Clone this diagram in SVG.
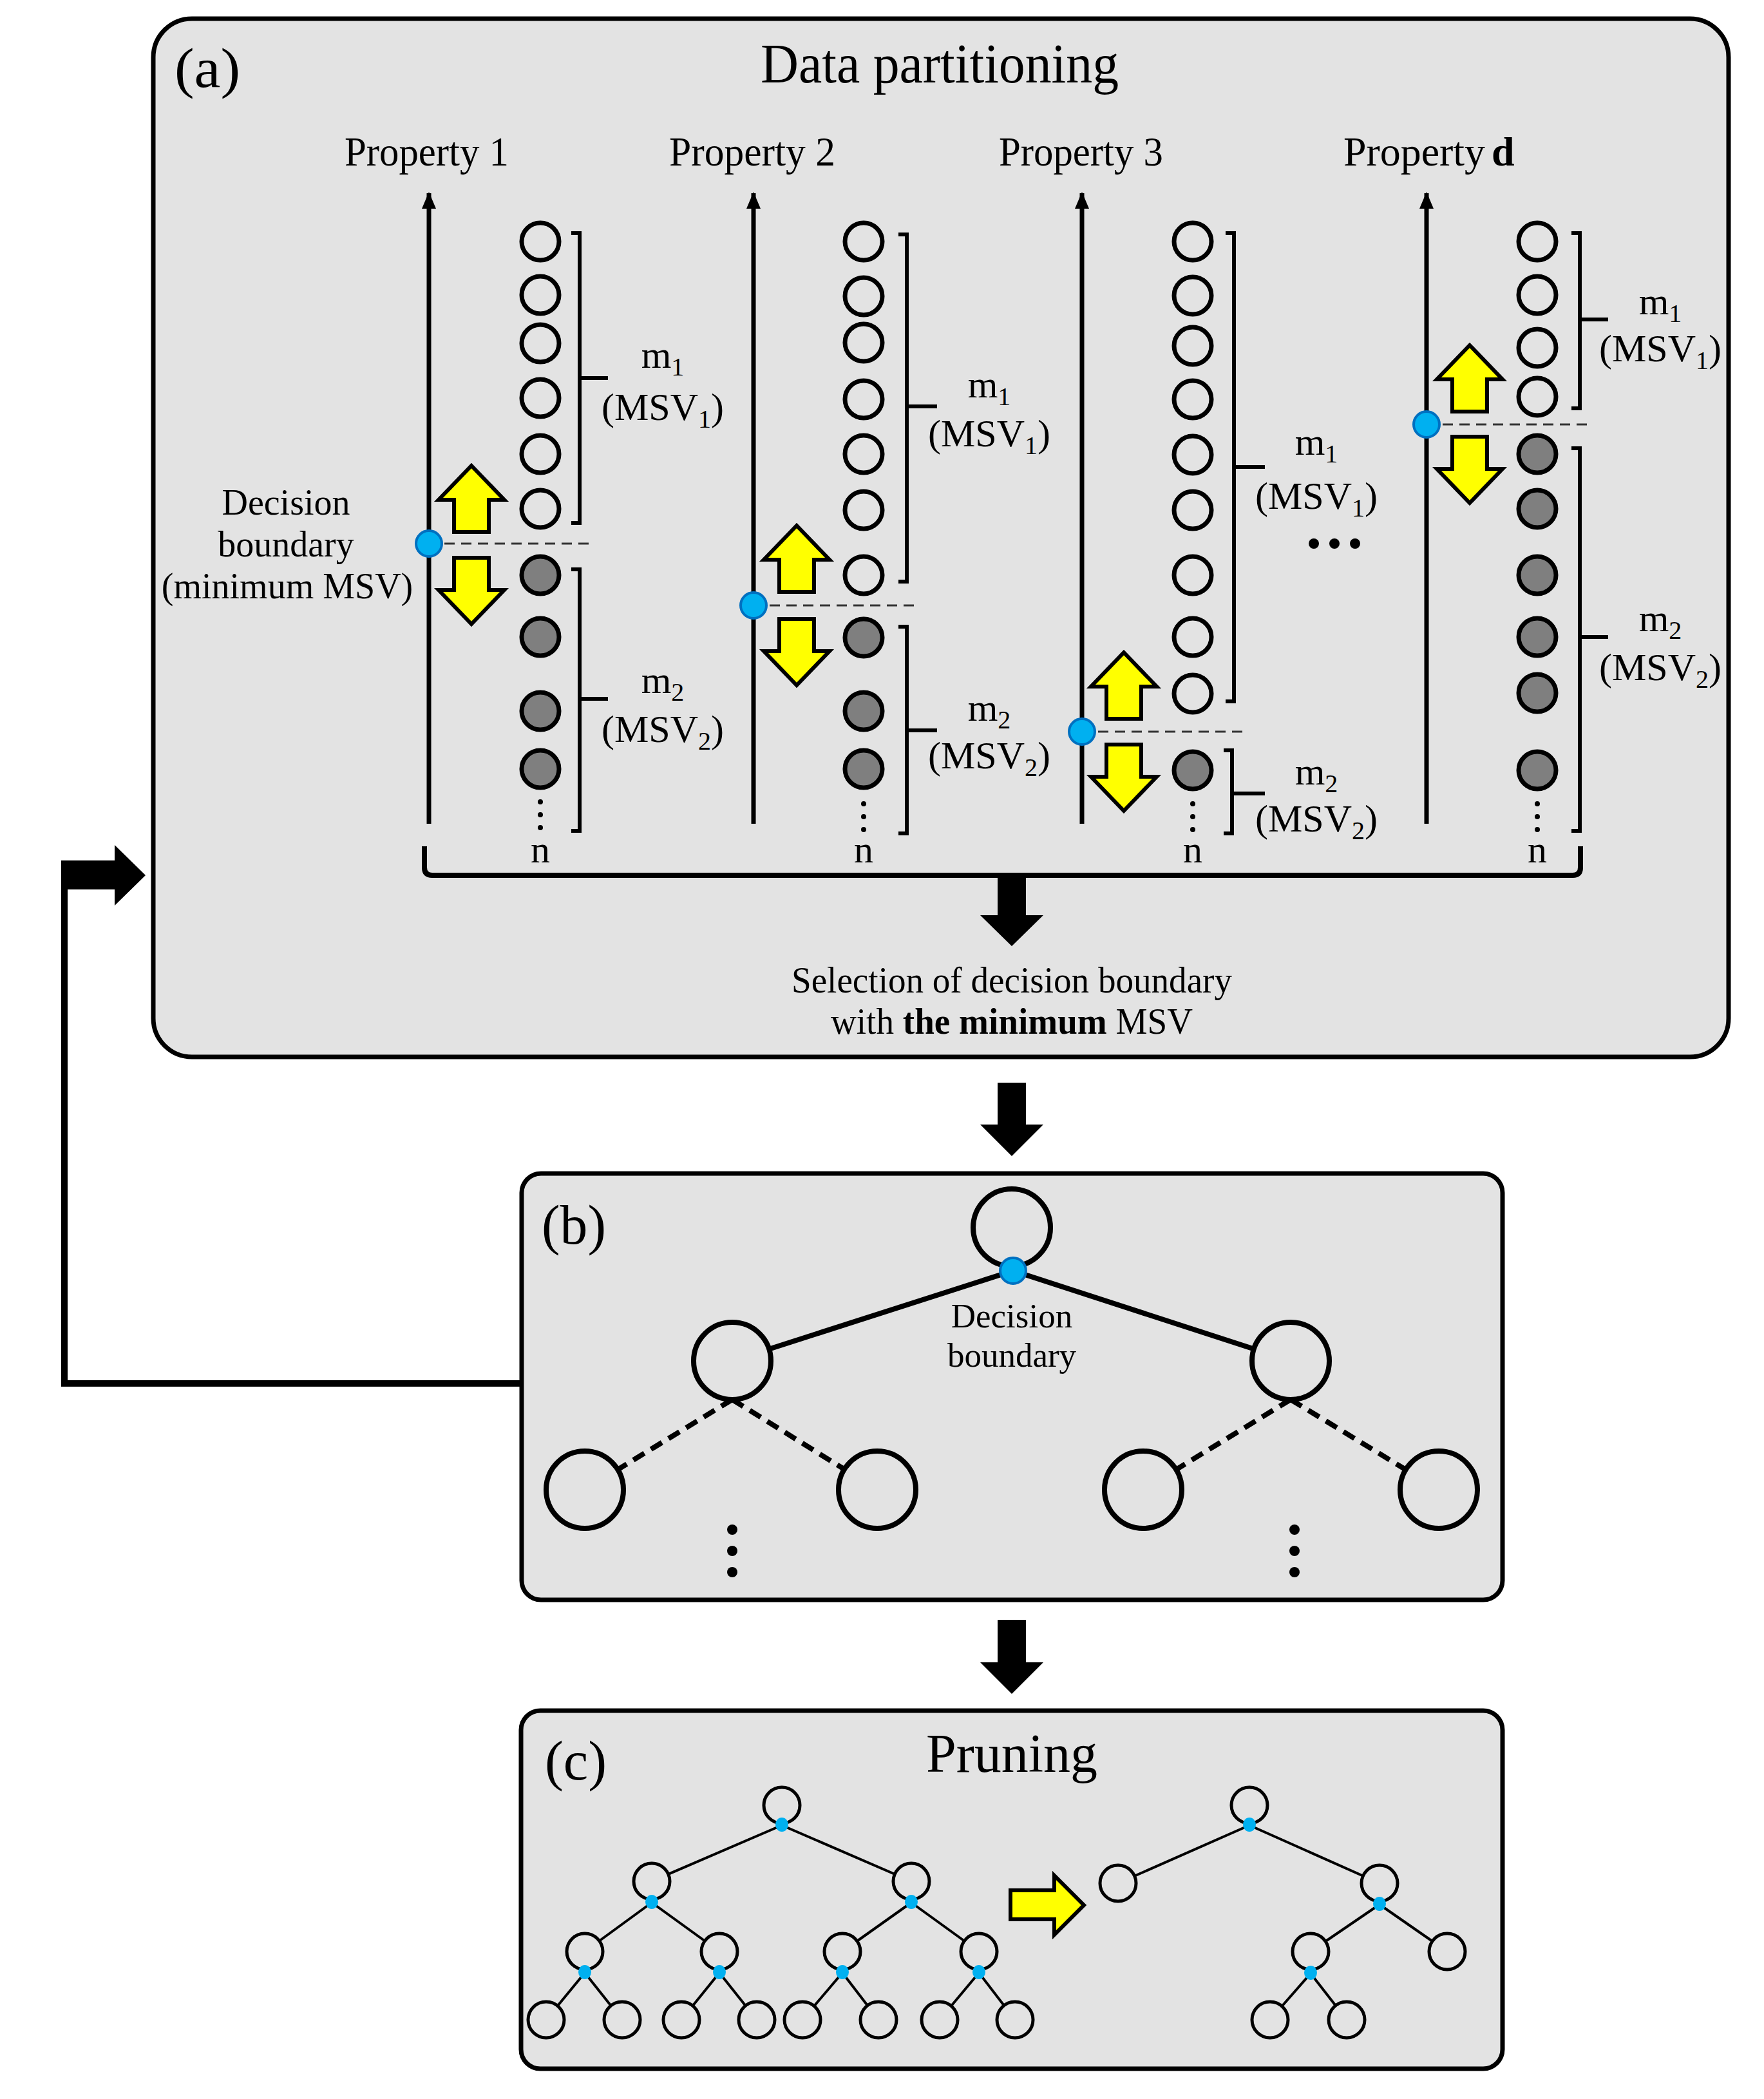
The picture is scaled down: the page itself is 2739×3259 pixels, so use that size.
<svg xmlns="http://www.w3.org/2000/svg" xmlns:xlink="http://www.w3.org/1999/xlink" width="2739" height="3259" viewBox="0 0 2739 3259">
<defs>
<style>
.t{font-family:"Liberation Serif","Times New Roman",serif;fill:#000}
.panel{fill:#e3e3e3;stroke:#000;stroke-width:7}
.axis{stroke:#000;stroke-width:7;fill:none}
.oc{fill:none;stroke:#000;stroke-width:7}
.fc{fill:#7f7f7f;stroke:#000;stroke-width:7}
.br{fill:none;stroke:#000;stroke-width:6;stroke-linejoin:miter}
.dash{stroke:#333;stroke-width:3;stroke-dasharray:16 10;fill:none}
.bd{fill:#00b0f0;stroke:#0070c0;stroke-width:4}
.ya{fill:#ffff00;stroke:#000;stroke-width:6;stroke-linejoin:miter}
.tc{fill:#e3e3e3;stroke:#000;stroke-width:8}
.tl{stroke:#000;stroke-width:8;fill:none}
.tld{stroke:#000;stroke-width:8;stroke-dasharray:20 12;fill:none}
.sc{fill:#e3e3e3;stroke:#000;stroke-width:5}
.sl{stroke:#000;stroke-width:4;fill:none}
.sd{fill:#00b0f0}
.blk{fill:#000}
</style>
<marker id="ah" markerUnits="userSpaceOnUse" markerWidth="26" markerHeight="22" refX="24" refY="11" orient="auto">
<path d="M0,0 L26,11 L0,22 Z" fill="#000"/>
</marker>
<path id="up" d="M0,0 L51,53 L27,53 L27,103 L-27,103 L-27,53 L-51,53 Z"/>
<path id="dn" d="M0,0 L51,-53 L27,-53 L27,-103 L-27,-103 L-27,-53 L-51,-53 Z"/>
</defs>

<g id="connectors">
<path d="M100,1336 L100,2148 L810,2148" fill="none" stroke="#000" stroke-width="10"/>
<path class="blk" d="M95,1336 L178,1336 L178,1312 L226,1359 L178,1406 L178,1381 L95,1381 Z"/>
<path class="blk" d="M1549,1681 L1593,1681 L1593,1746 L1620,1746 L1571,1795 L1522,1746 L1549,1746 Z"/>
<path class="blk" d="M1549,2515 L1593,2515 L1593,2581 L1620,2581 L1571,2630 L1522,2581 L1549,2581 Z"/>
</g>

<g id="panel-a">
<rect class="panel" x="238" y="29" width="2446" height="1612" rx="60"/>
<text class="t" x="271" y="135" font-size="86" textLength="102" lengthAdjust="spacingAndGlyphs">(a)</text>
<text class="t" x="1181" y="128" font-size="86" textLength="556" lengthAdjust="spacingAndGlyphs">Data partitioning</text>

<g id="property-1">
<text class="t" x="535" y="257" font-size="64" textLength="255" lengthAdjust="spacingAndGlyphs">Property 1</text>
<line class="axis" x1="666" y1="1279" x2="666" y2="300" marker-end="url(#ah)"/>
<circle class="oc" cx="839" cy="375" r="29"/>
<circle class="oc" cx="839" cy="458" r="29"/>
<circle class="oc" cx="839" cy="533" r="29"/>
<circle class="oc" cx="839" cy="618" r="29"/>
<circle class="oc" cx="839" cy="705" r="29"/>
<circle class="oc" cx="839" cy="790" r="29"/>
<circle class="fc" cx="839" cy="893" r="29"/>
<circle class="fc" cx="839" cy="989" r="29"/>
<circle class="fc" cx="839" cy="1104" r="29"/>
<circle class="fc" cx="839" cy="1194" r="29"/>
<circle class="blk" cx="839" cy="1245" r="4"/><circle class="blk" cx="839" cy="1265" r="4"/><circle class="blk" cx="839" cy="1285" r="4"/>
<text class="t" x="839" y="1339" font-size="60" text-anchor="middle">n</text>
<path class="br" d="M887,362 L900,362 L900,812 L887,812 M900,587 L944,587"/>
<path class="br" d="M887,884 L900,884 L900,1290 L887,1290 M900,1085 L944,1085"/>
<text class="t" x="1029" y="571" font-size="60" text-anchor="middle">m<tspan font-size="40" dy="12">1</tspan></text>
<text class="t" x="1029" y="652" font-size="60" text-anchor="middle">(MSV<tspan font-size="40" dy="12">1</tspan><tspan dy="-12">)</tspan></text>
<text class="t" x="1029" y="1076" font-size="60" text-anchor="middle">m<tspan font-size="40" dy="12">2</tspan></text>
<text class="t" x="1029" y="1152" font-size="60" text-anchor="middle">(MSV<tspan font-size="40" dy="12">2</tspan><tspan dy="-12">)</tspan></text>
<line class="dash" x1="690" y1="844" x2="917" y2="844"/>
<use xlink:href="#up" href="#up" class="ya" x="732" y="723"/>
<use xlink:href="#dn" href="#dn" class="ya" x="732" y="969"/>
<circle class="bd" cx="666" cy="844" r="20"/>
<text class="t" font-size="56" text-anchor="middle"><tspan x="444" y="799">Decision</tspan><tspan x="444" y="864">boundary</tspan><tspan x="446" y="929">(minimum MSV)</tspan></text>
</g>

<g id="property-2">
<text class="t" x="1039" y="257" font-size="64" textLength="258" lengthAdjust="spacingAndGlyphs">Property 2</text>
<line class="axis" x1="1170" y1="1279" x2="1170" y2="300" marker-end="url(#ah)"/>
<circle class="oc" cx="1341" cy="375" r="29"/>
<circle class="oc" cx="1341" cy="460" r="29"/>
<circle class="oc" cx="1341" cy="532" r="29"/>
<circle class="oc" cx="1341" cy="620" r="29"/>
<circle class="oc" cx="1341" cy="705" r="29"/>
<circle class="oc" cx="1341" cy="792" r="29"/>
<circle class="oc" cx="1341" cy="893" r="29"/>
<circle class="fc" cx="1341" cy="990" r="29"/>
<circle class="fc" cx="1341" cy="1104" r="29"/>
<circle class="fc" cx="1341" cy="1194" r="29"/>
<circle class="blk" cx="1341" cy="1248" r="4"/><circle class="blk" cx="1341" cy="1268" r="4"/><circle class="blk" cx="1341" cy="1288" r="4"/>
<text class="t" x="1341" y="1339" font-size="60" text-anchor="middle">n</text>
<path class="br" d="M1395,364 L1408,364 L1408,903 L1395,903 M1408,631 L1455,631"/>
<path class="br" d="M1395,973 L1408,973 L1408,1294 L1395,1294 M1408,1134 L1455,1134"/>
<text class="t" x="1536" y="617" font-size="60" text-anchor="middle">m<tspan font-size="40" dy="12">1</tspan></text>
<text class="t" x="1536" y="693" font-size="60" text-anchor="middle">(MSV<tspan font-size="40" dy="12">1</tspan><tspan dy="-12">)</tspan></text>
<text class="t" x="1536" y="1119" font-size="60" text-anchor="middle">m<tspan font-size="40" dy="12">2</tspan></text>
<text class="t" x="1536" y="1193" font-size="60" text-anchor="middle">(MSV<tspan font-size="40" dy="12">2</tspan><tspan dy="-12">)</tspan></text>
<line class="dash" x1="1195" y1="940" x2="1424" y2="940"/>
<use xlink:href="#up" href="#up" class="ya" x="1237" y="816"/>
<use xlink:href="#dn" href="#dn" class="ya" x="1237" y="1064"/>
<circle class="bd" cx="1170" cy="940" r="20"/>
</g>

<g id="property-3">
<text class="t" x="1551" y="257" font-size="64" textLength="255" lengthAdjust="spacingAndGlyphs">Property 3</text>
<line class="axis" x1="1680" y1="1279" x2="1680" y2="300" marker-end="url(#ah)"/>
<circle class="oc" cx="1852" cy="375" r="29"/>
<circle class="oc" cx="1852" cy="459" r="29"/>
<circle class="oc" cx="1852" cy="537" r="29"/>
<circle class="oc" cx="1852" cy="620" r="29"/>
<circle class="oc" cx="1852" cy="706" r="29"/>
<circle class="oc" cx="1852" cy="792" r="29"/>
<circle class="oc" cx="1852" cy="893" r="29"/>
<circle class="oc" cx="1852" cy="989" r="29"/>
<circle class="oc" cx="1852" cy="1077" r="29"/>
<circle class="fc" cx="1852" cy="1196" r="29"/>
<circle class="blk" cx="1852" cy="1248" r="4"/><circle class="blk" cx="1852" cy="1268" r="4"/><circle class="blk" cx="1852" cy="1288" r="4"/>
<text class="t" x="1852" y="1339" font-size="60" text-anchor="middle">n</text>
<path class="br" d="M1903,362 L1916,362 L1916,1089 L1903,1089 M1916,725 L1964,725"/>
<path class="br" d="M1900,1165 L1913,1165 L1913,1294 L1900,1294 M1913,1232 L1964,1232"/>
<text class="t" x="2044" y="706" font-size="60" text-anchor="middle">m<tspan font-size="40" dy="12">1</tspan></text>
<text class="t" x="2044" y="790" font-size="60" text-anchor="middle">(MSV<tspan font-size="40" dy="12">1</tspan><tspan dy="-12">)</tspan></text>
<text class="t" x="2044" y="1218" font-size="60" text-anchor="middle">m<tspan font-size="40" dy="12">2</tspan></text>
<text class="t" x="2044" y="1291" font-size="60" text-anchor="middle">(MSV<tspan font-size="40" dy="12">2</tspan><tspan dy="-12">)</tspan></text>
<line class="dash" x1="1705" y1="1136" x2="1933" y2="1136"/>
<use xlink:href="#up" href="#up" class="ya" x="1745" y="1013"/>
<use xlink:href="#dn" href="#dn" class="ya" x="1745" y="1259"/>
<circle class="bd" cx="1680" cy="1136" r="20"/>
</g>

<g id="ellipsis">
<circle class="blk" cx="2040" cy="844" r="8"/><circle class="blk" cx="2072" cy="844" r="8"/><circle class="blk" cx="2104" cy="844" r="8"/>
</g>

<g id="property-d">
<text class="t" x="2086" y="257" font-size="64" textLength="220" lengthAdjust="spacingAndGlyphs">Property</text>
<text class="t" x="2316" y="257" font-size="64" font-weight="bold">d</text>
<line class="axis" x1="2215" y1="1279" x2="2215" y2="300" marker-end="url(#ah)"/>
<circle class="oc" cx="2387" cy="375" r="29"/>
<circle class="oc" cx="2387" cy="458" r="29"/>
<circle class="oc" cx="2387" cy="540" r="29"/>
<circle class="oc" cx="2387" cy="616" r="29"/>
<circle class="fc" cx="2387" cy="705" r="29"/>
<circle class="fc" cx="2387" cy="790" r="29"/>
<circle class="fc" cx="2387" cy="893" r="29"/>
<circle class="fc" cx="2387" cy="989" r="29"/>
<circle class="fc" cx="2387" cy="1076" r="29"/>
<circle class="fc" cx="2387" cy="1196" r="29"/>
<circle class="blk" cx="2387" cy="1248" r="4"/><circle class="blk" cx="2387" cy="1268" r="4"/><circle class="blk" cx="2387" cy="1288" r="4"/>
<text class="t" x="2387" y="1339" font-size="60" text-anchor="middle">n</text>
<path class="br" d="M2440,362 L2453,362 L2453,634 L2440,634 M2453,496 L2497,496"/>
<path class="br" d="M2440,696 L2453,696 L2453,1290 L2440,1290 M2453,989 L2497,989"/>
<text class="t" x="2578" y="488" font-size="60" text-anchor="middle">m<tspan font-size="40" dy="12">1</tspan></text>
<text class="t" x="2578" y="561" font-size="60" text-anchor="middle">(MSV<tspan font-size="40" dy="12">1</tspan><tspan dy="-12">)</tspan></text>
<text class="t" x="2578" y="980" font-size="60" text-anchor="middle">m<tspan font-size="40" dy="12">2</tspan></text>
<text class="t" x="2578" y="1056" font-size="60" text-anchor="middle">(MSV<tspan font-size="40" dy="12">2</tspan><tspan dy="-12">)</tspan></text>
<line class="dash" x1="2240" y1="659" x2="2468" y2="659"/>
<use xlink:href="#up" href="#up" class="ya" x="2282" y="536"/>
<use xlink:href="#dn" href="#dn" class="ya" x="2282" y="781"/>
<circle class="bd" cx="2215" cy="659" r="20"/>
</g>

<path id="bottom-brace" d="M659,1314 L659,1347 Q659,1359 671,1359 L2442,1359 Q2454,1359 2454,1347 L2454,1314" fill="none" stroke="#000" stroke-width="8"/>
<path class="blk" d="M1549,1359 L1593,1359 L1593,1421 L1620,1421 L1571,1469 L1522,1421 L1549,1421 Z"/>
<text class="t" x="1229" y="1541" font-size="56" textLength="684" lengthAdjust="spacingAndGlyphs">Selection  of decision  boundary</text>
<text class="t" x="1290" y="1605" font-size="56" textLength="562" lengthAdjust="spacingAndGlyphs">with <tspan font-weight="bold">the minimum</tspan> MSV</text>
</g>

<g id="panel-b">
<rect class="panel" x="810" y="1822" width="1523" height="662" rx="30"/>
<text class="t" x="841" y="1931" font-size="86" textLength="100" lengthAdjust="spacingAndGlyphs">(b)</text>
<line class="tl" x1="1573" y1="1973" x2="1137" y2="2113"/>
<line class="tl" x1="1573" y1="1973" x2="2004" y2="2113"/>
<line class="tld" x1="1137" y1="2173" x2="908" y2="2313"/>
<line class="tld" x1="1137" y1="2173" x2="1362" y2="2313"/>
<line class="tld" x1="2004" y1="2173" x2="1775" y2="2313"/>
<line class="tld" x1="2004" y1="2173" x2="2234" y2="2313"/>
<circle class="tc" cx="1571" cy="1906" r="60"/>
<circle class="tc" cx="1137" cy="2113" r="60"/>
<circle class="tc" cx="2004" cy="2113" r="60"/>
<circle class="tc" cx="908" cy="2313" r="60"/>
<circle class="tc" cx="1362" cy="2313" r="60"/>
<circle class="tc" cx="1775" cy="2313" r="60"/>
<circle class="tc" cx="2234" cy="2313" r="60"/>
<circle class="bd" cx="1573" cy="1973" r="20"/>
<text class="t" font-size="53" text-anchor="middle"><tspan x="1571" y="2061">Decision</tspan><tspan x="1571" y="2122">boundary</tspan></text>
<circle class="blk" cx="1137" cy="2375" r="8"/><circle class="blk" cx="1137" cy="2408" r="8"/><circle class="blk" cx="1137" cy="2441" r="8"/>
<circle class="blk" cx="2010" cy="2375" r="8"/><circle class="blk" cx="2010" cy="2408" r="8"/><circle class="blk" cx="2010" cy="2441" r="8"/>
</g>

<g id="panel-c">
<rect class="panel" x="809" y="2656" width="1524" height="556" rx="30"/>
<text class="t" x="846" y="2763" font-size="86" textLength="96" lengthAdjust="spacingAndGlyphs">(c)</text>
<text class="t" x="1571" y="2751" font-size="84" text-anchor="middle">Pruning</text>

<g id="tree-before">
<path class="sl" d="M1214,2834 L1012,2921 M1214,2834 L1415,2921 M1012,2954 L908,3030 M1012,2954 L1117,3030 M1415,2954 L1308,3030 M1415,2954 L1520,3030 M908,3063 L848,3136 M908,3063 L966,3136 M1117,3063 L1058,3136 M1117,3063 L1175,3136 M1308,3063 L1246,3136 M1308,3063 L1364,3136 M1520,3063 L1459,3136 M1520,3063 L1576,3136"/>
<circle class="sc" cx="1214" cy="2803" r="28"/>
<circle class="sc" cx="1012" cy="2921" r="28"/>
<circle class="sc" cx="1415" cy="2921" r="28"/>
<circle class="sc" cx="908" cy="3030" r="28"/>
<circle class="sc" cx="1117" cy="3030" r="28"/>
<circle class="sc" cx="1308" cy="3030" r="28"/>
<circle class="sc" cx="1520" cy="3030" r="28"/>
<circle class="sc" cx="848" cy="3136" r="28"/>
<circle class="sc" cx="966" cy="3136" r="28"/>
<circle class="sc" cx="1058" cy="3136" r="28"/>
<circle class="sc" cx="1175" cy="3136" r="28"/>
<circle class="sc" cx="1246" cy="3136" r="28"/>
<circle class="sc" cx="1364" cy="3136" r="28"/>
<circle class="sc" cx="1459" cy="3136" r="28"/>
<circle class="sc" cx="1576" cy="3136" r="28"/>
<ellipse class="sd" cx="1214" cy="2833" rx="10" ry="11"/>
<ellipse class="sd" cx="1012" cy="2953" rx="10" ry="11"/>
<ellipse class="sd" cx="1415" cy="2953" rx="10" ry="11"/>
<ellipse class="sd" cx="908" cy="3062" rx="10" ry="11"/>
<ellipse class="sd" cx="1117" cy="3062" rx="10" ry="11"/>
<ellipse class="sd" cx="1308" cy="3062" rx="10" ry="11"/>
<ellipse class="sd" cx="1520" cy="3062" rx="10" ry="11"/>
</g>

<path class="ya" stroke-width="5" d="M1569,2935 L1637,2935 L1637,2912 L1683,2958 L1637,3004 L1637,2980 L1569,2980 Z"/>

<g id="tree-after">
<path class="sl" d="M1940,2834 L1736,2924 M1940,2834 L2142,2924 M2142,2957 L2035,3030 M2142,2957 L2247,3030 M2035,3064 L1972,3136 M2035,3064 L2091,3136"/>
<circle class="sc" cx="1940" cy="2803" r="28"/>
<circle class="sc" cx="1736" cy="2924" r="28"/>
<circle class="sc" cx="2142" cy="2924" r="28"/>
<circle class="sc" cx="2035" cy="3030" r="28"/>
<circle class="sc" cx="2247" cy="3030" r="28"/>
<circle class="sc" cx="1972" cy="3136" r="28"/>
<circle class="sc" cx="2091" cy="3136" r="28"/>
<ellipse class="sd" cx="1940" cy="2833" rx="10" ry="11"/>
<ellipse class="sd" cx="2142" cy="2956" rx="10" ry="11"/>
<ellipse class="sd" cx="2035" cy="3063" rx="10" ry="11"/>
</g>
</g>
</svg>
